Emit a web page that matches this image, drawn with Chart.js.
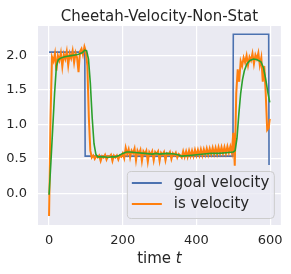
<!DOCTYPE html>
<html>
<head>
<meta charset="utf-8">
<script src="https://cdn.jsdelivr.net/npm/chart.js@4.4.0/dist/chart.umd.min.js"></script>
<style>
  html, body { margin: 0; padding: 0; background: #ffffff; }
  #wrap { width: 291px; height: 274px; }
</style>
</head>
<body>
<div id="wrap"><canvas id="chart" width="291" height="274"></canvas></div>
<script>
// Goal velocity (step changes) vs. measured velocity, plus a smoothed trace.

const TITLE = 'Cheetah-Velocity-Non-Stat';
const X_TICKS = [0, 200, 400, 600];
const Y_TICKS = [0, 0.5, 1.0, 1.5, 2.0];

const GOAL_T = [0, 97, 98, 499, 500, 596, 597];
const GOAL_V = [2.05, 2.05, 0.54, 0.54, 2.31, 2.31, 0.41];

const IS_T = [
  0, 4, 8, 12, 16, 20, 24, 28, 32, 36, 40, 44, 48, 52, 56, 60, 64, 68, 72, 76,
  80, 84, 88, 92, 96, 100, 104, 108, 112, 116, 120, 124, 128, 132, 136, 140, 144, 148, 152, 156,
  160, 164, 168, 172, 176, 180, 184, 188, 192, 196, 200, 204, 208, 212, 216, 220, 224, 228, 232, 236,
  240, 244, 248, 252, 256, 260, 264, 268, 272, 276, 280, 284, 288, 292, 296, 300, 304, 308, 312, 316,
  320, 324, 328, 332, 336, 340, 344, 348, 352, 356, 360, 364, 368, 372, 376, 380, 384, 388, 392, 396,
  400, 404, 408, 412, 416, 420, 424, 428, 432, 436, 440, 444, 448, 452, 456, 460, 464, 468, 472, 476,
  480, 484, 488, 492, 496, 500, 504, 508, 512, 516, 520, 524, 528, 532, 536, 540, 544, 548, 552, 556,
  560, 564, 568, 572, 576, 580, 584, 588, 592, 596, 599
];
const IS_V = [
  -0.33, 1.10, 1.98, 1.92, 2.03, 1.78, 2.00, 1.93, 2.04, 1.84, 2.02, 1.95, 2.06, 1.86, 2.03, 1.96, 2.07, 1.90, 2.04, 1.97,
  1.76, 2.06, 2.10, 2.01, 2.13, 2.06, 1.85, 1.10, 0.62, 0.52, 0.55, 0.50, 0.54, 0.52, 0.55, 0.47, 0.54, 0.52, 0.56, 0.49,
  0.54, 0.53, 0.56, 0.47, 0.55, 0.52, 0.55, 0.49, 0.55, 0.53, 0.58, 0.51, 0.66, 0.57, 0.64, 0.52, 0.62, 0.58, 0.65, 0.48,
  0.62, 0.57, 0.63, 0.47, 0.61, 0.57, 0.62, 0.46, 0.60, 0.56, 0.61, 0.48, 0.60, 0.57, 0.61, 0.47, 0.59, 0.56, 0.60, 0.48,
  0.58, 0.56, 0.60, 0.50, 0.58, 0.55, 0.59, 0.52, 0.57, 0.55, 0.52, 0.61, 0.53, 0.61, 0.53, 0.62, 0.54, 0.62, 0.54, 0.63,
  0.55, 0.63, 0.55, 0.64, 0.55, 0.64, 0.56, 0.65, 0.56, 0.65, 0.57, 0.66, 0.57, 0.66, 0.57, 0.67, 0.58, 0.67, 0.58, 0.67,
  0.58, 0.68, 0.59, 0.68, 0.59, 0.88, 0.40, 1.45, 1.80, 1.62, 1.92, 1.85, 1.97, 1.90, 2.00, 1.86, 1.98, 1.93, 2.03, 1.88,
  2.01, 1.95, 2.04, 1.86, 1.97, 1.62, 1.85, 1.45, 0.92, 0.95, 1.08
];

const SMOOTH_T = [
  0, 5, 10, 15, 20, 25, 30, 40, 50, 60, 70, 80, 90, 97, 102, 107, 112, 117, 122, 127,
  132, 140, 150, 160, 170, 180, 190, 200, 210, 220, 240, 260, 280, 290, 300, 320, 340, 350, 360, 380,
  400, 420, 440, 460, 480, 500, 505, 510, 515, 520, 525, 530, 537, 545, 555, 565, 575, 582, 588, 594, 599
];
const SMOOTH_V = [
  -0.02, 0.45, 0.95, 1.45, 1.85, 1.94, 1.96, 1.98, 1.99, 2.00, 2.01, 2.02, 2.04, 2.08, 2.07, 1.95, 1.60, 1.10, 0.72, 0.57,
  0.53, 0.53, 0.53, 0.52, 0.53, 0.53, 0.55, 0.58, 0.60, 0.60, 0.59, 0.58, 0.57, 0.58, 0.57, 0.58, 0.57, 0.56, 0.54, 0.55,
  0.56, 0.57, 0.58, 0.58, 0.59, 0.60, 0.62, 0.80, 1.15, 1.45, 1.65, 1.78, 1.88, 1.93, 1.95, 1.94, 1.91, 1.82, 1.66, 1.46, 1.32
];

const TEXT = '#262626';
const FONT = 'DejaVu Sans';

function pairs(ts, vs) {
  return ts.map((t, i) => ({ x: t, y: vs[i] }));
}

const plotBackground = {
  id: 'plotBackground',
  beforeDraw(chart) {
    const { ctx, chartArea: a } = chart;
    ctx.save();
    ctx.fillStyle = '#EAEAF2';
    ctx.fillRect(a.left, a.top, a.width, a.height);
    ctx.restore();
  }
};

// matplotlib-style legend box in the lower right of the plot
const innerLegend = {
  id: 'innerLegend',
  afterDatasetsDraw(chart) {
    const { ctx, chartArea: a } = chart;
    const items = chart.data.datasets
      .filter((d) => d.label)
      .sort((p, q) => q.order - p.order);
    const w = 147, h = 47;
    const x = a.right - 7 - w, y = a.bottom - 7 - h;
    ctx.save();
    ctx.beginPath();
    ctx.roundRect(x + 0.5, y + 0.5, w, h, 4);
    ctx.fillStyle = 'rgba(234,234,242,0.8)';
    ctx.fill();
    ctx.strokeStyle = '#cccccc';
    ctx.lineWidth = 1;
    ctx.stroke();
    ctx.font = '15px "' + FONT + '"';
    ctx.textBaseline = 'middle';
    ctx.fillStyle = TEXT;
    items.forEach((d, i) => {
      const cy = y + 12 + i * 21;
      ctx.beginPath();
      ctx.moveTo(x + 5, cy);
      ctx.lineTo(x + 35, cy);
      ctx.strokeStyle = d.borderColor;
      ctx.lineWidth = 2;
      ctx.stroke();
      ctx.fillText(d.label, x + 47, cy);
    });
    ctx.restore();
  }
};

// x-axis title with an italic "t"
const xTitle = {
  id: 'xTitle',
  afterDraw(chart) {
    const { ctx, chartArea: a } = chart;
    const plain = 'time ';
    const ital = 't';
    ctx.save();
    ctx.fillStyle = TEXT;
    ctx.textBaseline = 'alphabetic';
    ctx.font = '15px "' + FONT + '"';
    const w1 = ctx.measureText(plain).width;
    ctx.font = 'italic 15px "' + FONT + '"';
    const w2 = ctx.measureText(ital).width;
    const x0 = (a.left + a.right) / 2 - (w1 + w2) / 2;
    ctx.font = '15px "' + FONT + '"';
    ctx.fillText(plain, x0, 263);
    ctx.font = 'italic 15px "' + FONT + '"';
    ctx.fillText(ital, x0 + w1, 263);
    ctx.restore();
  }
};

Chart.defaults.font.family = FONT;
Chart.defaults.color = TEXT;

new Chart(document.getElementById('chart'), {
  type: 'line',
  data: {
    datasets: [
      {
        data: pairs(SMOOTH_T, SMOOTH_V),
        borderColor: '#2ca02c',
        borderWidth: 1.6,
        order: 0
      },
      {
        label: 'is velocity',
        data: pairs(IS_T, IS_V),
        borderColor: '#ff7f0e',
        borderWidth: 2,
        order: 1
      },
      {
        label: 'goal velocity',
        data: pairs(GOAL_T, GOAL_V),
        borderColor: '#4c72b0',
        borderWidth: 1.6,
        order: 2
      }
    ]
  },
  options: {
    responsive: false,
    animation: false,
    events: [],
    elements: { point: { radius: 0 }, line: { tension: 0 } },
    layout: { padding: { left: 0, right: 10, top: 0, bottom: 0 } },
    plugins: {
      legend: { display: false },
      tooltip: { enabled: false },
      title: {
        display: true,
        fullSize: false,
        text: TITLE,
        color: TEXT,
        font: { size: 15, weight: 'normal' },
        padding: { top: 8, bottom: 0 }
      }
    },
    scales: {
      x: {
        type: 'linear',
        min: -30,
        max: 629,
        afterBuildTicks: (s) => { s.ticks = X_TICKS.map((v) => ({ value: v })); },
        afterFit: (s) => { s.height = 49; },
        grid: { color: '#ffffff', lineWidth: 1.2, drawTicks: false },
        border: { display: false },
        ticks: { padding: 8, font: { size: 13 }, color: TEXT, maxRotation: 0 }
      },
      y: {
        min: -0.46,
        max: 2.43,
        afterBuildTicks: (s) => { s.ticks = Y_TICKS.map((v) => ({ value: v })); },
        afterFit: (s) => { s.width = 38; },
        grid: { color: '#ffffff', lineWidth: 1.2, drawTicks: false },
        border: { display: false },
        ticks: {
          padding: 11,
          font: { size: 13 },
          color: TEXT,
          callback: (v) => Number(v).toFixed(1)
        }
      }
    }
  },
  plugins: [plotBackground, innerLegend, xTitle]
});
</script>
</body>
</html>
